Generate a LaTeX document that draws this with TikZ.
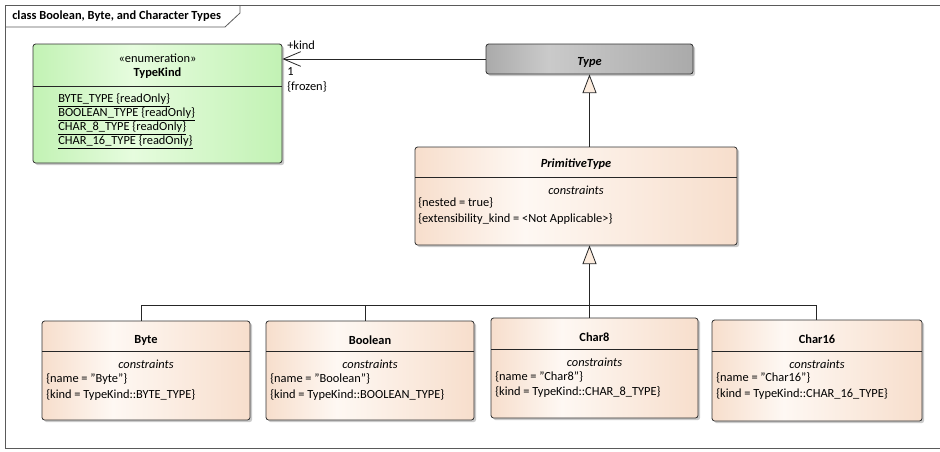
\documentclass[tikz,border=0pt]{standalone}
\usepackage{fontspec}
\setmainfont{Carlito}
\usetikzlibrary{calc,shadows,arrows.meta}

\definecolor{peachEdge}{RGB}{247,222,204}
\definecolor{peachMid}{RGB}{254,248,243}
\definecolor{greenEdge}{RGB}{194,242,180}
\definecolor{greenMid}{RGB}{230,252,222}
\definecolor{grayEdge}{RGB}{170,170,170}
\definecolor{grayMid}{RGB}{202,202,202}
\definecolor{frameLine}{RGB}{90,90,90}
\definecolor{triFill}{RGB}{252,236,222}

\pgfdeclarehorizontalshading{peachShade}{100bp}{color(0bp)=(peachEdge); color(25bp)=(peachEdge); color(42bp)=(peachMid); color(75bp)=(peachEdge); color(100bp)=(peachEdge)}
\pgfdeclarehorizontalshading{greenShade}{100bp}{color(0bp)=(greenEdge); color(25bp)=(greenEdge); color(45bp)=(greenMid); color(75bp)=(greenEdge); color(100bp)=(greenEdge)}
\pgfdeclarehorizontalshading{grayShade}{100bp}{color(0bp)=(grayEdge); color(25bp)=(grayEdge); color(40bp)=(grayMid); color(75bp)=(grayEdge); color(100bp)=(grayEdge)}

\tikzset{
  umlbox/.style 2 args={draw=black!80, line width=0.6pt, rounded corners=2pt, inner sep=0pt,
    minimum width=#1*0.75pt, minimum height=#2*0.75pt,
    drop shadow={shadow xshift=1.6pt, shadow yshift=-1.6pt, fill=black!35, opacity=0.6}},
  peachbox/.style 2 args={umlbox={#1}{#2}, shade, shading=peachShade},
  greenbox/.style 2 args={umlbox={#1}{#2}, shade, shading=greenShade},
  graybox/.style 2 args={umlbox={#1}{#2}, shade, shading=grayShade},
  umltxt/.style={inner sep=0pt, font=\fontsize{9.3}{11}\selectfont},
  attr/.style={umltxt, anchor=west},
  conn/.style={draw=black!85, line width=0.6pt},
  gen/.style={conn, -{Triangle[fill=triFill, length=14pt, width=10.5pt, line width=0.6pt]}},
  assoc/.style={conn, -{Straight Barb[length=13pt, width=11pt, line width=0.6pt]}}
}

\begin{document}
\begin{tikzpicture}[x=0.75pt,y=0.75pt,yscale=-1,xscale=1]
  \useasboundingbox (0,0) rectangle (940,451);
  %Frame
  \draw[frameLine, line width=0.6pt] (940,5) -- (5,5) -- (5,448) -- (940,448);
  \draw[frameLine, line width=0.6pt] (5,27) -- (225,27) -- (240,13) -- (240,5);
  \node[umltxt, anchor=west, font=\fontsize{9.3}{11}\selectfont\bfseries] (title) at (12,16) {class Boolean, Byte, and Character Types};

  %Class: TypeKind
  \node[greenbox={249}{119}] (typekind) at (157.5,103.5) {};
  \draw[conn] (33,86) -- (282,86);
  \node[umltxt] (tkStereo) at (157.5,58) {«enumeration»};
  \node[umltxt, font=\fontsize{9.3}{11}\selectfont\bfseries] (tkName) at (157.5,73) {TypeKind};
  \node[attr] (tkA) at (58,100) {\underline{BYTE\_TYPE \{readOnly\}}};
  \node[attr] (tkB) at (58,114) {\underline{BOOLEAN\_TYPE \{readOnly\}}};
  \node[attr] (tkC) at (58,128) {\underline{CHAR\_8\_TYPE \{readOnly\}}};
  \node[attr] (tkD) at (58,142) {\underline{CHAR\_16\_TYPE \{readOnly\}}};

  %Class: Type
  \node[graybox={207}{30}] (type) at (589.5,59) {};
  \node[umltxt, font=\fontsize{9.3}{11}\selectfont\bfseries\itshape] (typeName) at (589.5,62) {Type};

  %Class: PrimitiveType
  \node[peachbox={322}{98}] (primitive) at (576,196) {};
  \draw[conn] (415,177) -- (737,177);
  \node[umltxt, font=\fontsize{9.3}{11}\selectfont\bfseries\itshape] (primName) at (576,164) {PrimitiveType};
  \node[umltxt, font=\fontsize{9.3}{11}\selectfont\itshape] (primCons) at (576,190) {constraints};
  \node[attr] (primA) at (418,203) {\{nested = true\}};
  \node[attr] (primB) at (418,219) {\{extensibility\_kind = <Not Applicable>\}};

  %Class: Byte
  \node[peachbox={208}{99}] (byte) at (146,370.5) {};
  \draw[conn] (42,351) -- (250,351);
  \node[umltxt, font=\fontsize{9.3}{11}\selectfont\bfseries] (byteName) at (146,340) {Byte};
  \node[umltxt, font=\fontsize{9.3}{11}\selectfont\itshape] (byteCons) at (146,364) {constraints};
  \node[attr] (byteA) at (46,379) {\{name = "Byte"\}};
  \node[attr] (byteB) at (46,395) {\{kind = TypeKind::BYTE\_TYPE\}};

  %Class: Boolean
  \node[peachbox={208}{99}] (boolean) at (370,370.5) {};
  \draw[conn] (266,351) -- (474,351);
  \node[umltxt, font=\fontsize{9.3}{11}\selectfont\bfseries] (boolName) at (370,340) {Boolean};
  \node[umltxt, font=\fontsize{9.3}{11}\selectfont\itshape] (boolCons) at (370,364) {constraints};
  \node[attr] (boolA) at (270,379) {\{name = "Boolean"\}};
  \node[attr] (boolB) at (270,395) {\{kind = TypeKind::BOOLEAN\_TYPE\}};

  %Class: Char8
  \node[peachbox={207}{100}] (char8) at (594.5,368) {};
  \draw[conn] (491,349) -- (698,349);
  \node[umltxt, font=\fontsize{9.3}{11}\selectfont\bfseries] (c8Name) at (594.5,337) {Char8};
  \node[umltxt, font=\fontsize{9.3}{11}\selectfont\itshape] (c8Cons) at (594.5,362) {constraints};
  \node[attr] (c8A) at (495,377) {\{name = "Char8"\}};
  \node[attr] (c8B) at (495,392) {\{kind = TypeKind::CHAR\_8\_TYPE\}};

  %Class: Char16
  \node[peachbox={210}{101}] (char16) at (817,370.5) {};
  \draw[conn] (712,351) -- (922,351);
  \node[umltxt, font=\fontsize{9.3}{11}\selectfont\bfseries] (c16Name) at (817,339) {Char16};
  \node[umltxt, font=\fontsize{9.3}{11}\selectfont\itshape] (c16Cons) at (817,364) {constraints};
  \node[attr] (c16A) at (716,378) {\{name = "Char16"\}};
  \node[attr] (c16B) at (716,394) {\{kind = TypeKind::CHAR\_16\_TYPE\}};

  %Association kind
  \draw[assoc] (type.west) -- (type.west -| typekind.east);
  \node[umltxt, anchor=west] (roleKind) at (287,45) {+kind};
  \node[umltxt, anchor=west] (multKind) at (287,72) {1};
  \node[umltxt, anchor=west] (consKind) at (287,87) {\{frozen\}};

  %Generalizations
  \coordinate (jByte) at (141,305);
  \coordinate (jBool) at (365,305);
  \coordinate (jChar) at (589.5,305);
  \coordinate (jC16) at (816,305);
  \draw[gen] (primitive.north -| type.south) -- (type.south);
  \draw[conn] (jByte |- byte.north) -- (jByte) -- (jC16) -- (jC16 |- char16.north);
  \draw[conn] (jBool |- boolean.north) -- (jBool);
  \draw[gen] (jChar |- char8.north) -- (jChar |- primitive.south);
\end{tikzpicture}
\end{document}
